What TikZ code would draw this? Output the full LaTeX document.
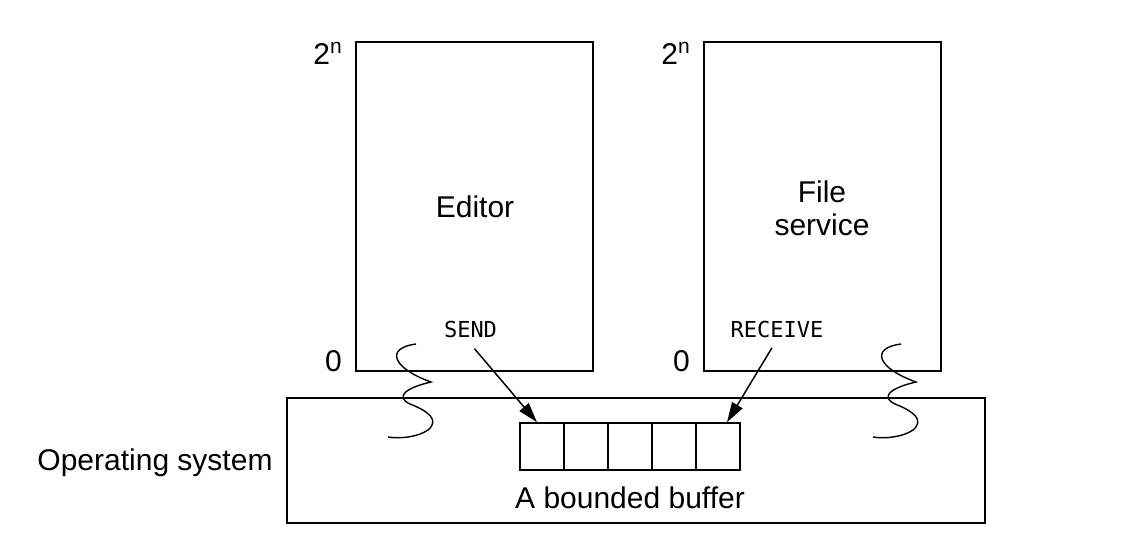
\documentclass[tikz,border=0pt]{standalone}
\usepackage{fontspec}
\setmainfont{Liberation Sans}
\setmonofont{DejaVu Sans Mono}
\usetikzlibrary{arrows.meta,positioning}

\begin{document}
\begin{tikzpicture}[x=0.5pt, y=-0.5pt, font=\fontsize{15}{16.5}\selectfont,
    box/.style={draw, line width=0.75pt, inner sep=0pt},
    cell/.style={draw, line width=0.75pt, minimum width=22pt, minimum height=23.5pt, inner sep=0pt},
    call/.style={font=\fontsize{11}{12}\selectfont\ttfamily, inner sep=0pt, anchor=base},
    msg/.style={-{Triangle[length=10pt,width=6pt]}, line width=0.75pt}]
    \useasboundingbox (0,0) rectangle (1128,552);

    % the two processes
    \node[box, minimum width=118.5pt, minimum height=164.5pt] (editor) at (474.5,206.5) {};
    \node[box, minimum width=118.5pt, minimum height=164.5pt] (filesrv) at (822.5,206.5) {};
    \node[anchor=base] (edname) at (475,217) {Editor};
    \node[align=center] (fsname) at (822,208) {File\\service};

    \node[anchor=north east, inner sep=0pt] (edtop) at ([xshift=-6pt,yshift=-0.5pt]editor.north west) {2\textsuperscript{n}};
    \node[anchor=north east, inner sep=0pt] (fstop) at ([xshift=-6pt,yshift=-0.5pt]filesrv.north west) {2\textsuperscript{n}};
    \node[anchor=south east, inner sep=0pt] (edbot) at ([xshift=-6.5pt]editor.south west) {0};
    \node[anchor=south east, inner sep=0pt] (fsbot) at ([xshift=-6.5pt]filesrv.south west) {0};

    % kernel and buffer
    \node[box, minimum width=349pt, minimum height=62.5pt] (os) at (636,460.5) {};
    \node[anchor=base] (oslabel) at (155,470) {Operating system};
    \foreach \i in {1,...,5}
        \node[cell] (c\i) at (498+44*\i,446.5) {};
    \node (buflabel) at (630,497.5) {A bounded buffer};

    \node[call] (send) at (470.5,337) {SEND};
    \node[call] (recv) at (777,337) {RECEIVE};
    \draw[msg] ([xshift=2pt,yshift=-5.5pt]send.south) -- ([xshift=-2.5pt]c1.north);
    \draw[msg] ([xshift=-2.5pt,yshift=-5pt]recv.south) -- ([xshift=4.5pt]c5.north);

    % squiggles
    \foreach \dx in {0,485}
        \draw[line width=0.7pt] (416+\dx,344) .. controls (385+\dx,348) and (392+\dx,368) .. (431+\dx,382)
            .. controls (405+\dx,388) and (395+\dx,397) .. (410+\dx,404)
            .. controls (428+\dx,411) and (440+\dx,420) .. (428+\dx,430)
            .. controls (418+\dx,437) and (400+\dx,439) .. (388+\dx,437);
\end{tikzpicture}
\end{document}
